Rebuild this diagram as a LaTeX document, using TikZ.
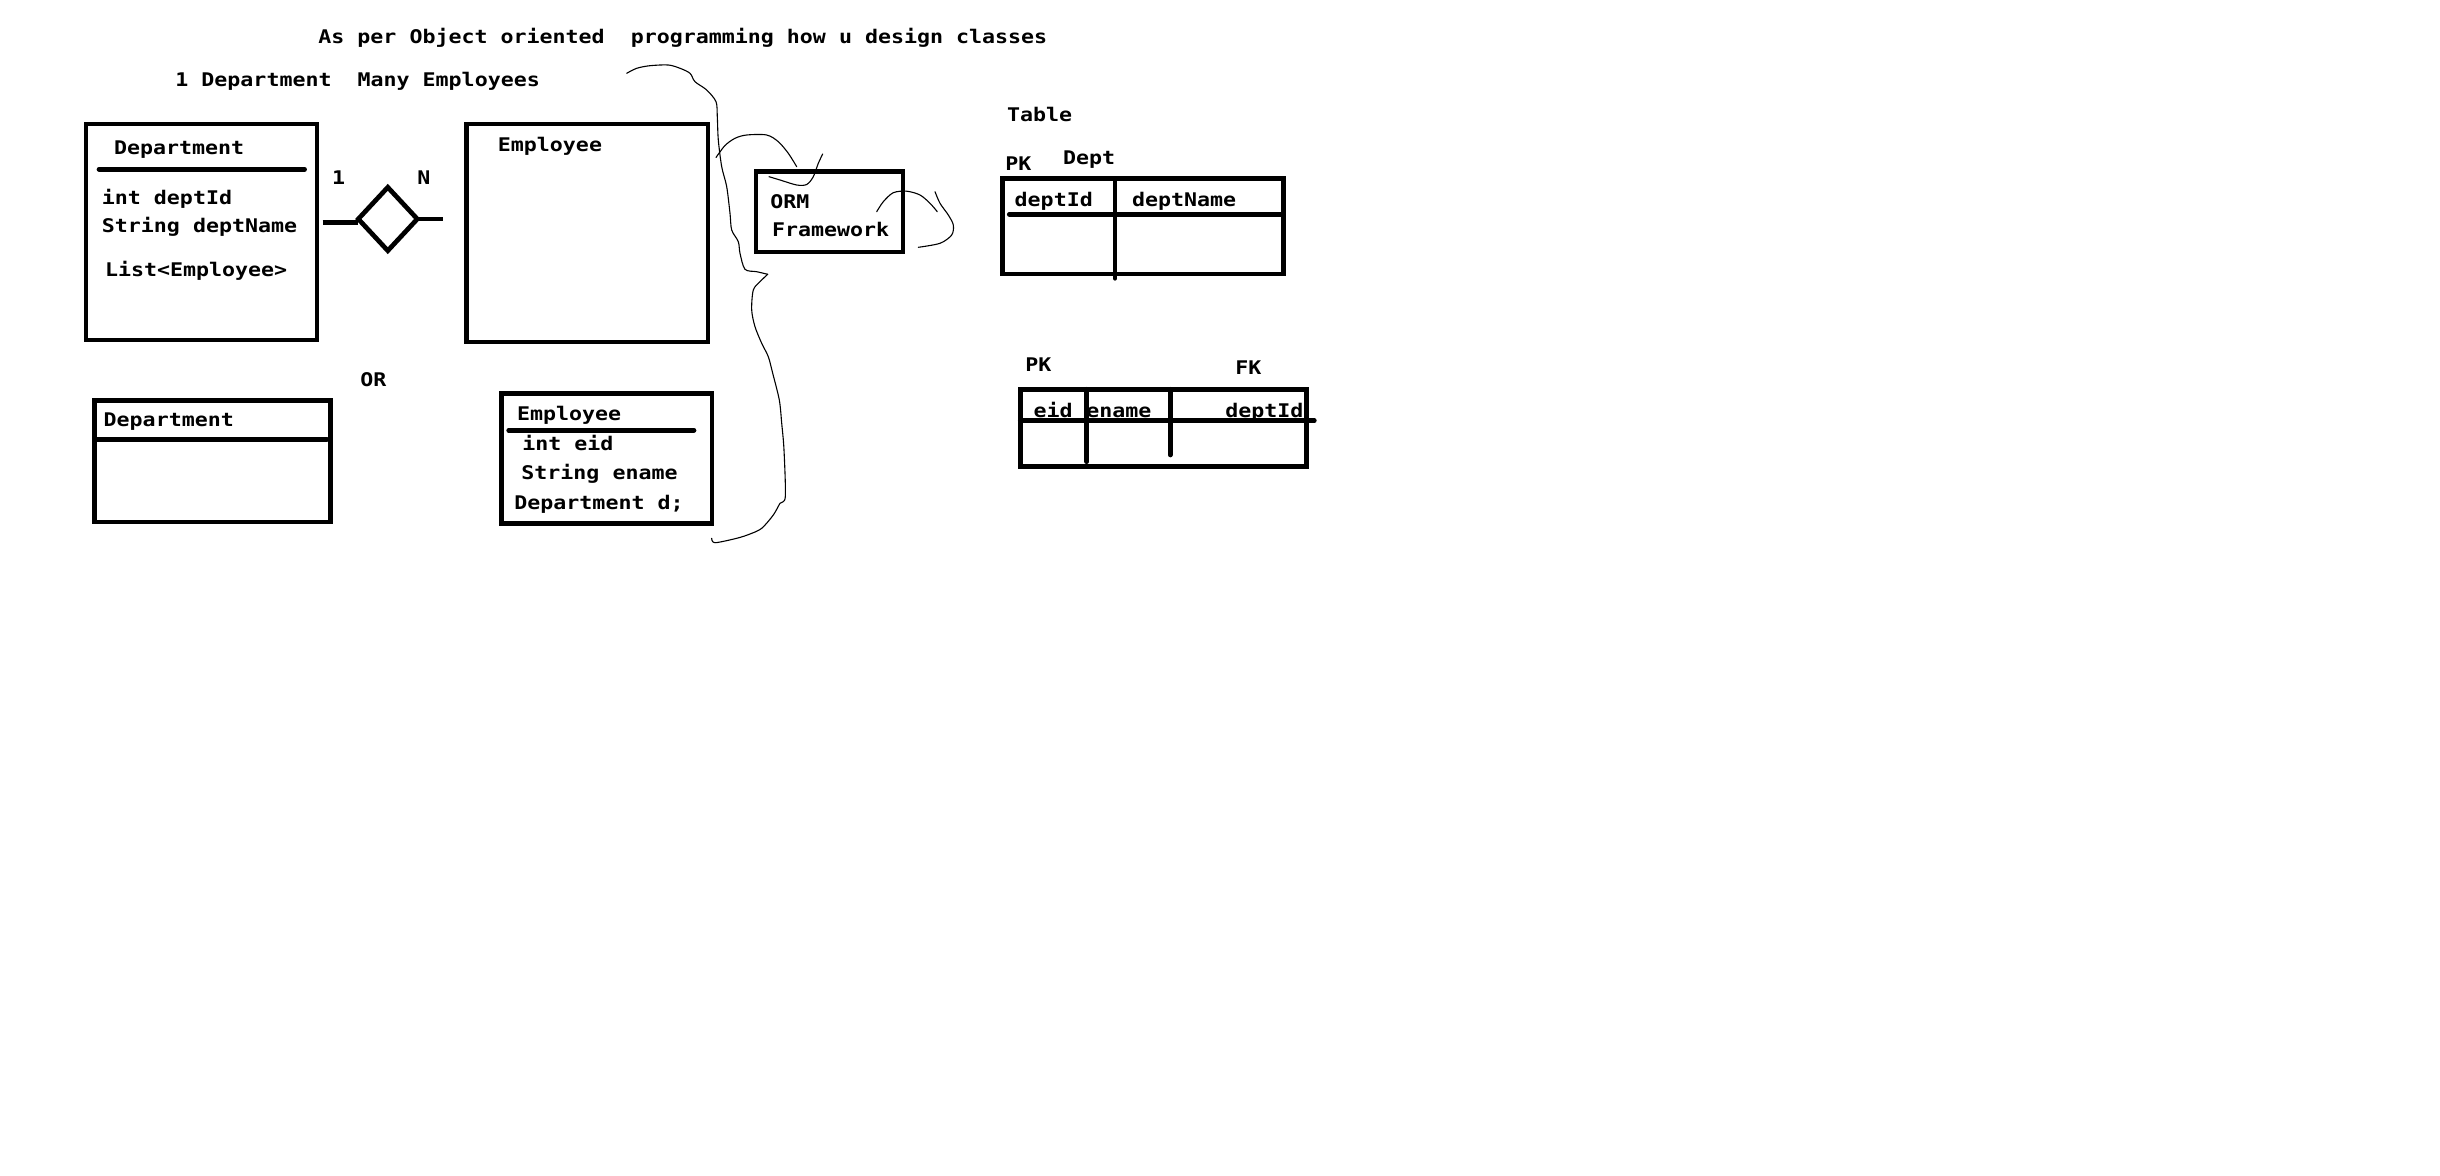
\documentclass[tikz,border=0pt]{standalone}
\usepackage{fontspec}
\newfontfamily\handfont[FakeStretch=1.15]{DejaVu Sans Mono}
\usetikzlibrary{fit,shapes.geometric}

\begin{document}
\begin{tikzpicture}[x=0.5pt,y=-0.5pt,
  heavy/.style={line width=2.35pt},
  box/.style={draw, heavy, rectangle, inner sep=0pt, outer sep=0pt, line join=miter},
  rule/.style={heavy, line cap=round},
  stroke/.style={line width=0.55pt, line cap=round, line join=round},
  lbl/.style={anchor=base west, inner sep=0pt,
    font=\handfont\bfseries\fontsize{9.4pt}{11pt}\selectfont},
]
% canvas
\fill[white] (0,0) rectangle (2440,1176);
\useasboundingbox (0,0) rectangle (2440,1176);

% headings
\node[lbl] (title) at (318,44) {As per Object oriented\ \ programming how u design classes};
\node[lbl] (sub) at (175,87) {1 Department\ \ Many Employees};

% class with a list of employees
\node[box, fit={(86,124) (317,340)}] (dept) {};
\draw[rule] (99,169.3) -- (304.6,169.3);
\node[lbl] (deptT) at (113.6,155) {Department};
\node[lbl] (deptA) at (101.5,205) {int deptId};
\node[lbl] (deptB) at (101.5,232.7) {String deptName};
\node[lbl] (deptC) at (104.6,276.7) {List<Employee>};

% one-to-many relationship
\node[draw, heavy, diamond, inner sep=0pt, outer sep=0pt,
      minimum width=29.5pt, minimum height=31.7pt] (rel) at (387.8,219) {};
\coordinate (stubL) at (322.7,222.7);
\coordinate (stubR) at (442.7,219);
\draw[heavy] (stubL) -- (stubL -| rel.west);
\draw[heavy] (rel.east) -- (stubR);
\node[lbl] (one) at (331.7,185) {1};
\node[lbl] (many) at (417,185) {N};

\node[box, fit={(466.7,124) (708,342)}] (emp) {};
\node[lbl] (empT) at (497.5,151.7) {Employee};

\node[lbl] (or) at (360,386.7) {OR};

% alternative: employee refers to its department
\node[box, fit={(94.8,400.3) (330.5,522)}] (dept2) {};
\draw[rule] (95,439.3) -- (327,439.3);
\node[lbl] (dept2T) at (103.3,426) {Department};

\node[box, fit={(501.5,393.7) (712,523.7)}] (emp2) {};
\draw[rule] (508.7,430.3) -- (694,430.3);
\node[lbl] (emp2T) at (516.7,420.7) {Employee};
\node[lbl] (emp2A) at (522,451) {int eid};
\node[lbl] (emp2B) at (521,479.3) {String ename};
\node[lbl] (emp2C) at (514,509.3) {Department d;};

% ORM framework
\node[box, fit={(756,171.3) (903,252)}] (orm) {};
\node[lbl] (ormA) at (770,208.3) {ORM};
\node[lbl] (ormB) at (771.7,236.7) {Framework};

% freehand strokes
\draw[stroke] plot[smooth, tension=0.5] coordinates {
  (626.7,73.3) (636.7,68.3) (650,65.7) (668.3,65) (680,68.3) (690,73.3)
  (695,81.7) (706.7,90) (716,101.7) (717.3,116.7) (718.3,140) (721.7,166.7)
  (726.7,186.7) (730,213.3) (731.7,230) (738.3,241.7) (740,253.3) (745,269.3)
  (756.7,271.7) (767.7,274.3)};
\draw[stroke] plot[smooth, tension=0.5] coordinates {
  (767.7,274.3) (760,281.7) (753.3,290) (751.7,310) (755,326.7) (761.7,343.3)
  (768.3,356.7) (772.7,373.3) (779.3,400) (781.7,423.3) (784,450) (785.3,496.7)
  (780,503.3) (773.3,515) (761.7,528.3) (750,534) (736.7,538.3) (715,542.7)
  (711.7,538.3)};
\draw[stroke] plot[smooth, tension=0.5] coordinates {
  (716,157.5) (725,145.5) (735,138.3) (746.7,135) (766.7,135) (778.3,141.7)
  (788.3,153.3) (796.7,166.7)};
\draw[stroke] plot[smooth, tension=0.5] coordinates {
  (769,176.7) (780,180) (796.7,185) (806.7,184.5) (813.3,176.7) (818.3,163.3)
  (822.7,154)};
\draw[stroke] plot[smooth, tension=0.5] coordinates {
  (876.7,211.7) (883.3,201.7) (893.3,192.7) (906.7,191.2) (920,195) (930,203.3)
  (937.3,211.7)};
\draw[stroke] plot[smooth, tension=0.5] coordinates {
  (935,191.7) (940,203.3) (948.3,215) (953.3,225) (951.7,235) (940,243.3)
  (918.3,247.3)};

% Dept table
\node[lbl] (tblT) at (1006.7,121.7) {Table};
\node[lbl] (pk1) at (1005,170.7) {PK};
\node[lbl] (tname) at (1062.7,165) {Dept};
\node[box, fit={(1002.7,178.7) (1283.3,274)}] (t1) {};
\draw[rule] (1115,178.7) -- (1115,278.3);
\draw[rule] (1009.3,214.3) -- (1283.3,214.3);
\node[lbl] (t1a) at (1014.3,206.7) {deptId};
\node[lbl] (t1b) at (1131.7,206.7) {deptName};

% Employee table
\node[lbl] (pk2) at (1025,371.7) {PK};
\node[lbl] (fk) at (1235,375) {FK};
\node[box, fit={(1020.3,389.3) (1306.3,466.3)}] (t2) {};
\draw[rule] (1086.7,389.3) -- (1086.7,461.7);
\draw[rule] (1170.3,389.3) -- (1170.3,455);
\draw[rule] (1020.3,420.7) -- (1314.3,420.7);
\node[lbl] (t2a) at (1033.3,417.3) {eid};
\node[lbl] (t2b) at (1086,417.3) {ename};
\node[lbl] (t2c) at (1225,417.3) {deptId};
\end{tikzpicture}
\end{document}
